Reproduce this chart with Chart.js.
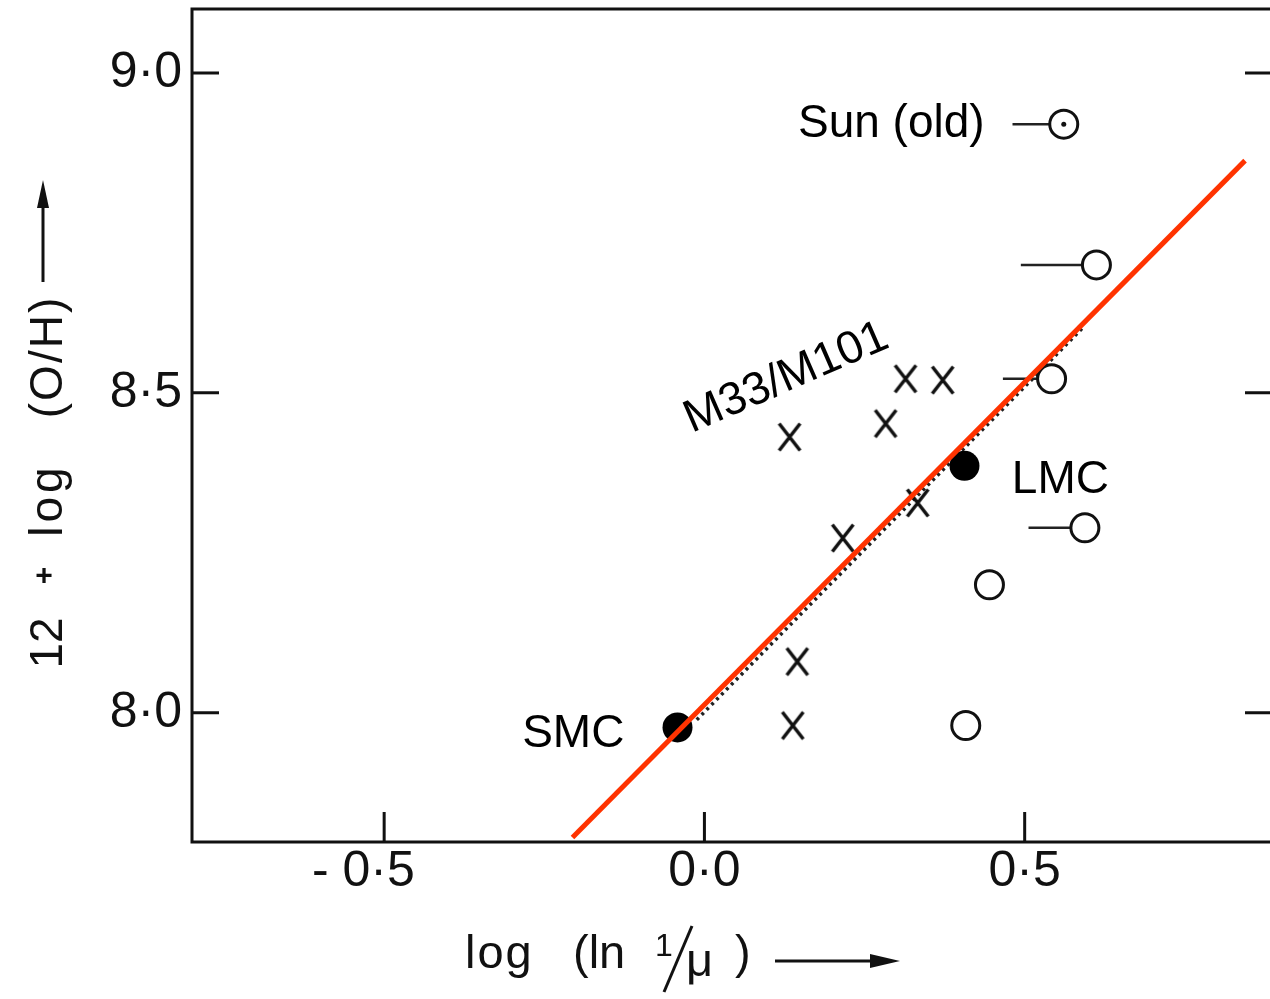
<!DOCTYPE html>
<html>
<head>
<meta charset="utf-8">
<script src="https://cdn.jsdelivr.net/npm/chart.js@4.4.1/dist/chart.umd.min.js"></script>
<style>
  html, body { margin: 0; padding: 0; background: #fff; }
  #wrap { width: 1270px; height: 999px; position: relative; }
</style>
</head>
<body>
<div id="wrap"><canvas id="chart"></canvas></div>
<script>
// --- DATA ---
const xTicks = [-0.5, 0.0, 0.5];
const yTicks = [8.0, 8.5, 9.0];

// M33 / M101 HII regions (crosses)
const crossX = [0.133, 0.216, 0.283, 0.314, 0.372, 0.333, 0.145, 0.138];
const crossY = [8.431, 8.273, 8.452, 8.522, 8.520, 8.328, 8.080, 7.980];

// Magellanic clouds (filled dots)
const cloudX = [-0.042, 0.406];
const cloudY = [7.977, 8.386];

// open circles, first one is the Sun
const openX = [0.561, 0.612, 0.542, 0.594, 0.445, 0.408];
const openY = [8.920, 8.700, 8.522, 8.289, 8.200, 7.980];
const openFromX = [0.481, 0.494, 0.466, 0.506, null, null]; // left end of the bars

// fitted lines
const fitX = [-0.206, 0.844];
const fitY = [7.805, 8.863];
const dottedX = [-0.012, 0.591];
const dottedY = [7.989, 8.602];

// text labels in the plot
const noteText = ['Sun (old)', 'LMC', 'SMC', 'M33/M101'];
const noteX = [0.4375, 0.480, -0.125, 0.128];
const noteY = [8.920, 8.364, 7.966, 8.523];

const ink = '#111';
const FONT = '"Liberation Sans", Arial, Helvetica, sans-serif';

// X shaped marker, a bit taller than wide like in the scan
function makeCross(w, h, lw) {
    const c = document.createElement('canvas');
    c.width = w + lw * 2; c.height = h + lw * 2;
    const g = c.getContext('2d');
    g.strokeStyle = ink; g.lineWidth = lw;
    g.beginPath();
    g.moveTo(lw, lw); g.lineTo(lw + w, lw + h);
    g.moveTo(lw + w, lw); g.lineTo(lw, lw + h);
    g.stroke();
    return c;
}
const crossImg = makeCross(21, 27, 3.5);

const pts = (xs, ys) => xs.map((x, i) => ({ x, y: ys[i] }));

const leaderSets = openFromX.map((x0, i) => x0 === null ? null : ({
    data: [{ x: x0, y: openY[i] }, { x: openX[i], y: openY[i] }],
    showLine: true, borderColor: '#222', borderWidth: 2.5, pointRadius: 0
})).filter(Boolean);

// frame + inward tick marks
const frame = {
    id: 'frame',
    beforeDatasetsDraw(chart) {
        const { ctx, chartArea: a, scales: { x, y } } = chart;
        ctx.save();
        ctx.strokeStyle = ink; ctx.lineWidth = 3; ctx.lineCap = 'square';
        ctx.beginPath();
        ctx.moveTo(a.right, a.top); ctx.lineTo(a.left, a.top);
        ctx.lineTo(a.left, a.bottom); ctx.lineTo(a.right, a.bottom);
        ctx.stroke();
        ctx.lineCap = 'butt';
        ctx.beginPath();
        yTicks.forEach(v => {
            const py = y.getPixelForValue(v);
            ctx.moveTo(a.left, py); ctx.lineTo(a.left + 27, py);
            ctx.moveTo(a.right - 25, py); ctx.lineTo(a.right, py);
        });
        xTicks.forEach(v => {
            const px = x.getPixelForValue(v);
            ctx.moveTo(px, a.bottom); ctx.lineTo(px, a.bottom - 30);
        });
        ctx.stroke();
        ctx.restore();
    }
};

// labels inside the plot and the two axis titles
const texts = {
    id: 'texts',
    afterDraw(chart) {
        const { ctx, scales: { x, y } } = chart;
        ctx.save();
        ctx.fillStyle = '#000';
        ctx.font = '46px ' + FONT;
        ctx.textBaseline = 'middle';
        const aligns = ['right', 'left', 'right', 'center'];
        noteText.forEach((t, i) => {
            const px = x.getPixelForValue(noteX[i]), py = y.getPixelForValue(noteY[i]);
            ctx.save();
            ctx.translate(px, py);
            if (t === 'M33/M101') ctx.rotate(-23.5 * Math.PI / 180);
            ctx.textAlign = aligns[i];
            ctx.fillText(t, 0, 0);
            ctx.restore();
        });

        // y title, rotated
        ctx.fillStyle = ink; ctx.strokeStyle = ink;
        ctx.font = '46px ' + FONT;
        ctx.textAlign = 'center'; ctx.textBaseline = 'alphabetic';
        [['12', 643, 0], ['log', 500, 4], ['(O/H)', 357, 2]].forEach(([t, cy, sp]) => {
            ctx.save();
            ctx.letterSpacing = sp + 'px';
            ctx.translate(62, cy); ctx.rotate(-Math.PI / 2);
            ctx.fillText(t, 0, 0);
            ctx.restore();
        });
        ctx.font = 'bold 30px ' + FONT;
        ctx.textBaseline = 'middle';
        ctx.fillText('+', 44, 577);
        // up arrow
        ctx.lineWidth = 3;
        ctx.beginPath(); ctx.moveTo(43, 282); ctx.lineTo(43, 205); ctx.stroke();
        ctx.beginPath(); ctx.moveTo(43, 180); ctx.lineTo(37, 208); ctx.lineTo(49, 208); ctx.closePath(); ctx.fill();

        // x title
        ctx.font = '47px ' + FONT;
        ctx.textAlign = 'left'; ctx.textBaseline = 'alphabetic';
        ctx.save(); ctx.letterSpacing = '2px'; ctx.fillText('log', 465, 968); ctx.restore();
        ctx.fillText('(ln', 573, 968);
        ctx.font = '32px ' + FONT;
        ctx.fillText('1', 655, 956);
        ctx.lineWidth = 3;
        ctx.beginPath(); ctx.moveTo(692, 926); ctx.lineTo(664, 992); ctx.stroke();
        ctx.font = '47px ' + FONT;
        ctx.fillText('\u03bc', 686, 976);
        ctx.fillText(')', 735, 968);
        ctx.beginPath(); ctx.moveTo(775, 961); ctx.lineTo(872, 961); ctx.stroke();
        ctx.beginPath(); ctx.moveTo(900, 961); ctx.lineTo(870, 954); ctx.lineTo(870, 968); ctx.closePath(); ctx.fill();
        ctx.restore();
    }
};

const fmt = v => (v < 0 ? '- ' : '') + Math.abs(v).toFixed(1).replace('.', '\u00b7') + (v < 0 ? '   ' : '');
const noPad = s => { s.paddingTop = 0; s.paddingBottom = 0; s.paddingLeft = 0; s.paddingRight = 0; };

new Chart(document.getElementById('chart'), {
    type: 'scatter',
    data: {
        datasets: [
            { data: pts(fitX, fitY), showLine: true, borderColor: '#ff3300', borderWidth: 5, pointRadius: 0 },
            { data: [{ x: openX[0], y: openY[0] }], pointRadius: 2.5, backgroundColor: ink, borderWidth: 0 },
            { data: pts(openX, openY), pointRadius: 14, backgroundColor: '#fff', borderColor: ink, borderWidth: 3 },
            { data: pts(cloudX, cloudY), pointRadius: 15, backgroundColor: '#000', borderWidth: 0 },
            { data: pts(crossX, crossY), pointStyle: crossImg, pointRadius: 10 },
            ...leaderSets,
            { data: pts(dottedX, dottedY), showLine: true, borderColor: '#222', borderWidth: 3.5, borderDash: [3, 4], pointRadius: 0 }
        ]
    },
    options: {
        animation: false,
        responsive: true,
        maintainAspectRatio: false,
        layout: { autoPadding: false, padding: { top: 9, right: 0, left: 0, bottom: 0 } },
        plugins: { legend: { display: false }, tooltip: { enabled: false } },
        scales: {
            x: {
                type: 'linear', min: -0.80, max: 0.883,
                afterBuildTicks: s => { s.ticks = xTicks.map(value => ({ value })); },
                afterFit: s => { s.height = 157; noPad(s); },
                grid: { display: false, drawTicks: false },
                border: { display: false },
                ticks: { padding: 0, color: ink, font: { family: FONT, size: 50 }, callback: fmt, maxRotation: 0 }
            },
            y: {
                type: 'linear', min: 7.798, max: 9.1,
                afterBuildTicks: s => { s.ticks = yTicks.map(value => ({ value })); },
                afterFit: s => { s.width = 192; noPad(s); },
                grid: { display: false, drawTicks: false },
                border: { display: false },
                ticks: { padding: 10, color: ink, font: { family: FONT, size: 50 }, callback: fmt }
            }
        }
    },
    plugins: [frame, texts]
});
</script>
</body>
</html>
